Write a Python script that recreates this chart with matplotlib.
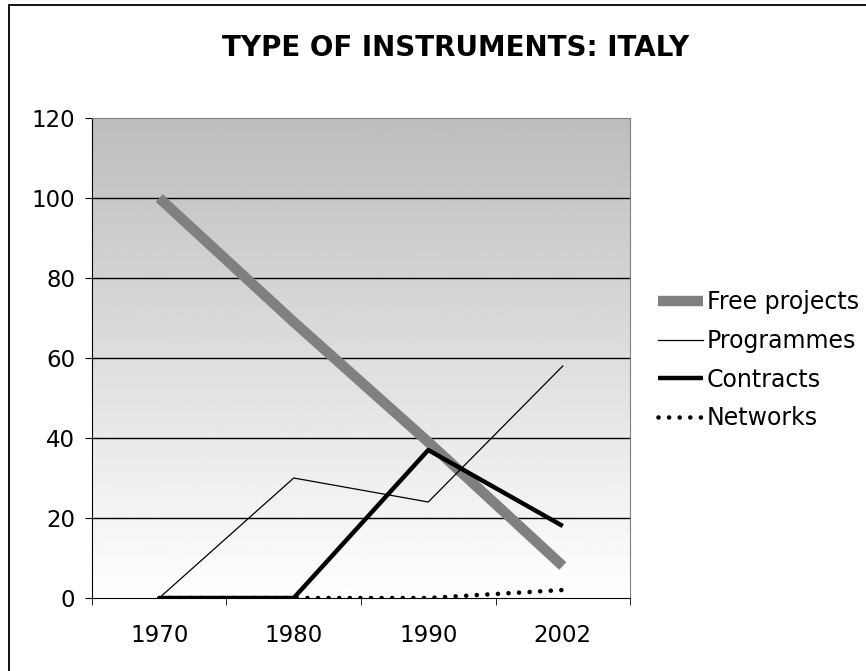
import numpy as np
import matplotlib.pyplot as plt

years = ['1970', '1980', '1990', '2002']
free_projects = [100, 69, 39, 8]
programmes = [0, 30, 24, 58]
contracts = [0, 0, 37, 18]
networks = [0, 0, 0, 2]

fig = plt.figure(figsize=(8.66, 6.71), dpi=100)
# chart frame: only its left and top edges fall inside the picture
fig.patches.append(plt.Rectangle((8.5 / 866, -0.05), 1.2, 1.05 - 5.5 / 671,
                                 transform=fig.transFigure, fill=False,
                                 edgecolor='black', linewidth=1.3))
ax = fig.add_axes([0.1062, 0.1088, 0.6213, 0.7153])

x = np.arange(len(years))

# gradient background, grey at top fading to white
grad = np.linspace(0.74, 1.0, 256).reshape(-1, 1)
ax.imshow(grad, cmap='gray', vmin=0, vmax=1, aspect='auto', origin='upper',
          extent=[-0.5, 3.5, 0, 120], zorder=0)

for v in [20, 40, 60, 80, 100]:
    ax.axhline(v, color='black', linewidth=1, zorder=1)

ax.plot(x, free_projects, color='#808080', linewidth=7.5, solid_capstyle='butt',
        label='Free projects', zorder=2)
ax.plot(x, programmes, color='black', linewidth=0.9, label='Programmes', zorder=3)
ax.plot(x, contracts, color='black', linewidth=3.2, solid_capstyle='butt',
        label='Contracts', zorder=4)
ax.plot(x, networks, color='black', linewidth=3.3, linestyle=(0, (0.01, 2.3)),
        dash_capstyle='round', label='Networks', zorder=5)

ax.set_xlim(-0.5, 3.5)
ax.set_ylim(0, 120)
ax.set_yticks(range(0, 121, 20))
ax.set_xticks(x)
ax.set_xticklabels(years)
ax.set_xticks(np.arange(-0.5, 4, 1), minor=True)
ax.tick_params(axis='x', which='major', length=0, pad=19, labelsize=16.5)
ax.tick_params(axis='x', which='minor', length=5, direction='out', color='black')
ax.tick_params(axis='y', length=5, direction='out', labelsize=16.5, pad=7)

for side in ['top', 'right']:
    ax.spines[side].set_color('#808080')
for side in ['left', 'bottom']:
    ax.spines[side].set_color('black')

fig.text(456 / 866, 0.928, 'TYPE OF INSTRUMENTS: ITALY', ha='center', va='center',
         fontsize=20, fontweight='bold')

leg = ax.legend(loc='center left', bbox_to_anchor=(1.026, 0.495), frameon=False,
                fontsize=17, handlelength=1.9, handletextpad=0.15, labelspacing=0.62,
                borderaxespad=0.2)

fig.savefig('out.png', dpi=100)
